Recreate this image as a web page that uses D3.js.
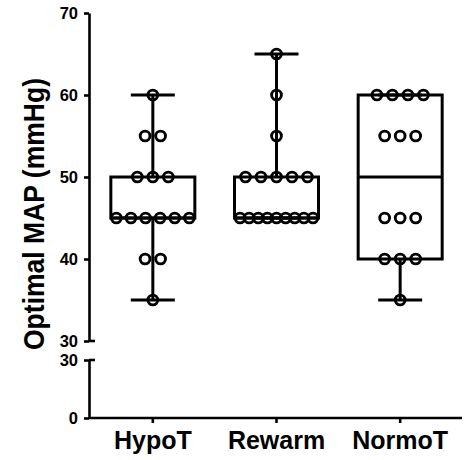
<!DOCTYPE html>
<html><head><meta charset="utf-8">
<script src="https://cdn.jsdelivr.net/npm/d3@7"></script>
<style>body{margin:0;background:#fff}svg{display:block}</style>
</head><body><svg id="c" width="474" height="460"></svg>
<script>
const categories = ["HypoT", "Rewarm", "NormoT"];
const hypoT  = [60, 55, 55, 50, 50, 50, 45, 45, 45, 45, 45, 45, 40, 40, 35];
const rewarm = [65, 60, 55, 50, 50, 50, 50, 50, 45, 45, 45, 45, 45, 45, 45, 45, 45];
const normoT = [60, 60, 60, 60, 55, 55, 55, 45, 45, 45, 40, 40, 40, 35];
const seriesValues = [hypoT, rewarm, normoT];
const upperTicks = [30, 40, 50, 60, 70];
const lowerTicks = [0, 30];
const yTitle = "Optimal MAP (mmHg)";

const FONT = "'Liberation Sans', Arial, sans-serif";
const svg = d3.select("#c");
const axisX = 89;
const yUpper = d3.scaleLinear().domain([30, 70]).range([341, 13]);
const yLower = d3.scaleLinear().domain([0, 30]).range([418, 360]);
const x = d3.scaleBand().domain(categories).range([91, 462]);
const cx = c => x(c) + x.bandwidth() / 2;

function quart(s, p) {
  const n = s.length, h = (n + 1) * p;
  const lo = Math.floor(h), hi = Math.ceil(h);
  const g = i => s[Math.max(0, Math.min(n - 1, i - 1))];
  return g(lo) + (h - lo) * (g(hi) - g(lo));
}
const stats = seriesValues.map((v, i) => {
  const s = v.slice().sort(d3.ascending);
  return {cat: categories[i], min: s[0], max: s[s.length - 1],
    q1: quart(s, 0.25), med: quart(s, 0.5), q3: quart(s, 0.75)};
});

// axes
const gUp = svg.append("g").attr("transform", `translate(${axisX},0)`)
  .call(d3.axisLeft(yUpper).tickValues(upperTicks).tickFormat(d3.format("d")).tickSize(5).tickSizeOuter(0).tickPadding(6));
const gLo = svg.append("g").attr("transform", `translate(${axisX},0)`)
  .call(d3.axisLeft(yLower).tickValues(lowerTicks).tickFormat(d3.format("d")).tickSize(5).tickSizeOuter(0).tickPadding(6));
const gX = svg.append("g").attr("transform", `translate(0,${yLower(0)})`)
  .call(d3.axisBottom(x).tickSize(5).tickSizeOuter(0).tickPadding(8));
gX.select(".domain").attr("d", `M${axisX},0H462`);
[gUp, gLo, gX].forEach(g => {
  g.selectAll("path,line").attr("stroke", "#000").attr("stroke-width", 2.6);
  g.selectAll("text").attr("fill", "#000").attr("font-family", FONT).attr("font-weight", "bold");
});
gUp.selectAll("text").attr("font-size", 16.5);
gLo.selectAll("text").attr("font-size", 16.5);
gX.selectAll("text").attr("font-size", 25).attr("dy", "0.71em");
// break marks
[yUpper(30), yLower(30)].forEach(yy => {
  svg.append("line").attr("x1", axisX).attr("x2", axisX + 6).attr("y1", yy).attr("y2", yy)
    .attr("stroke", "#000").attr("stroke-width", 2.6);
});

// y title
svg.append("text").attr("transform", `translate(44,214) rotate(-90)`)
  .attr("text-anchor", "middle").attr("font-family", FONT).attr("font-weight", "bold")
  .attr("font-size", 29).attr("textLength", 272).attr("lengthAdjust", "spacingAndGlyphs")
  .attr("fill", "#000").text(yTitle);

// boxes
const boxW = 84, capW = 44;
const gb = svg.append("g").attr("stroke", "#000").attr("stroke-width", 3).attr("fill", "none");
stats.forEach(s => {
  const c = cx(s.cat);
  gb.append("line").attr("x1", c).attr("x2", c).attr("y1", yUpper(s.max)).attr("y2", yUpper(s.q3));
  gb.append("line").attr("x1", c).attr("x2", c).attr("y1", yUpper(s.q1)).attr("y2", yUpper(s.min));
  gb.append("line").attr("x1", c - capW / 2).attr("x2", c + capW / 2).attr("y1", yUpper(s.max)).attr("y2", yUpper(s.max));
  gb.append("line").attr("x1", c - capW / 2).attr("x2", c + capW / 2).attr("y1", yUpper(s.min)).attr("y2", yUpper(s.min));
  gb.append("rect").attr("x", c - boxW / 2).attr("width", boxW)
    .attr("y", yUpper(s.q3)).attr("height", yUpper(s.q1) - yUpper(s.q3));
  gb.append("line").attr("x1", c - boxW / 2).attr("x2", c + boxW / 2).attr("y1", yUpper(s.med)).attr("y2", yUpper(s.med));
});

// points
const gp = svg.append("g").attr("stroke", "#000").attr("stroke-width", 2.9).attr("fill", "none");
seriesValues.forEach((vals, i) => {
  const c = cx(categories[i]);
  const groups = d3.groups(vals, v => v);
  groups.forEach(([v, arr]) => {
    const k = arr.length;
    const sp = k > 1 ? Math.min(15.5, 73 / (k - 1)) : 0;
    arr.forEach((_, j) => {
      gp.append("circle").attr("cx", c + (j - (k - 1) / 2) * sp).attr("cy", yUpper(v)).attr("r", 4.9);
    });
  });
});
</script></body></html>
